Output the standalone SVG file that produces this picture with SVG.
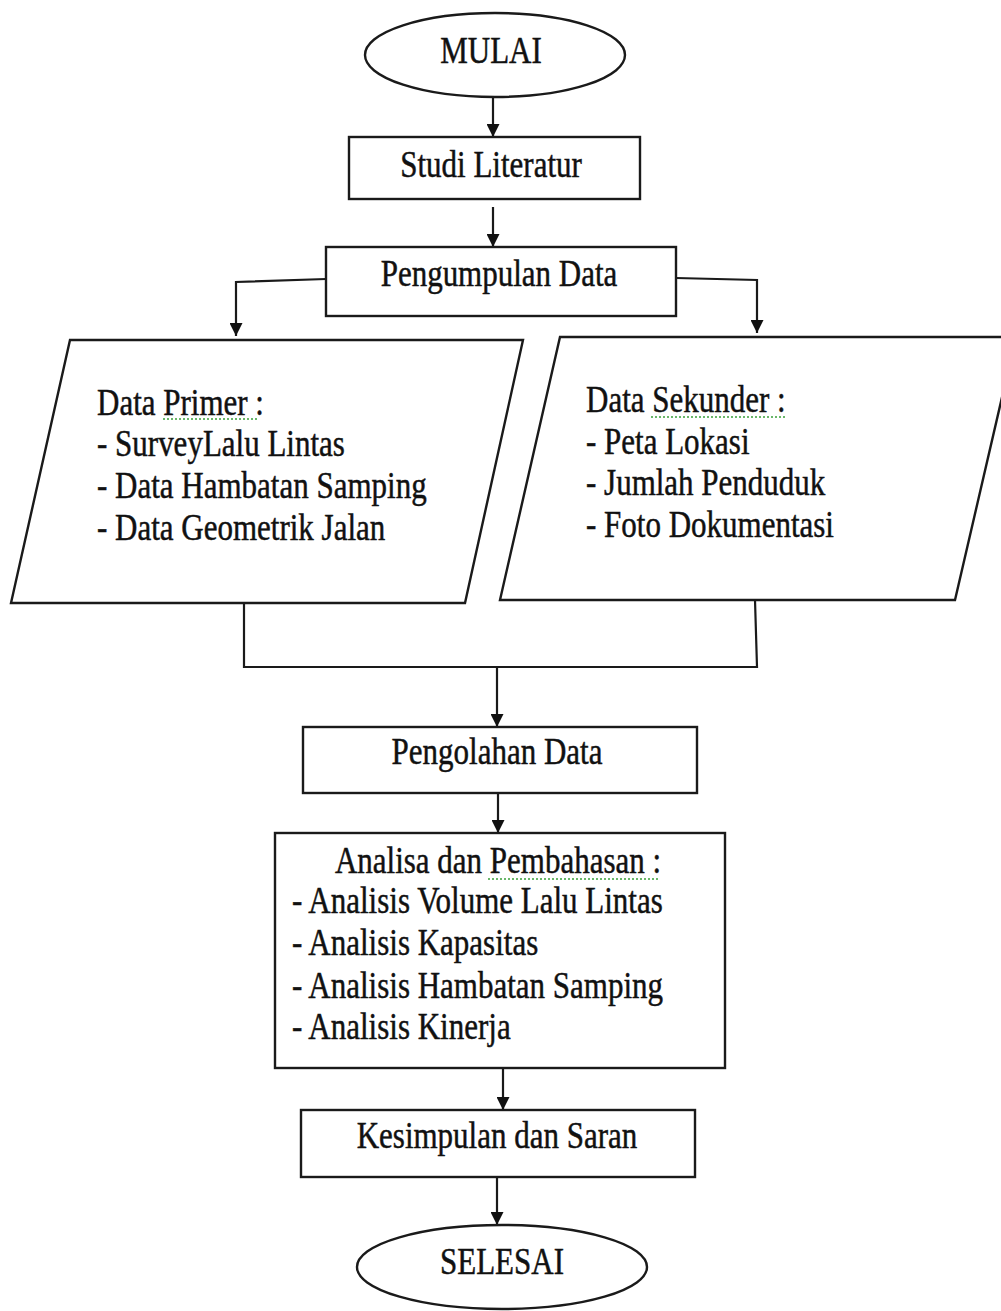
<svg xmlns="http://www.w3.org/2000/svg" width="1001" height="1311" viewBox="0 0 1001 1311">
<style>
  .shape { fill: #ffffff; stroke: #1a1a1a; stroke-width: 2.4; }
  .conn { fill: none; stroke: #1a1a1a; stroke-width: 2.2; }
  .t { font-family: "Liberation Serif", "Times New Roman", serif; font-size: 31px; fill: #111111; stroke: #111111; stroke-width: 0.4; }
  .c { text-anchor: middle; }
  .squig { fill: none; stroke: #3aa03a; stroke-width: 1.5; stroke-dasharray: 2 2; }
</style>
<defs>
  <marker id="arrow" viewBox="0 0 10 10" refX="10" refY="5" markerWidth="13" markerHeight="13" markerUnits="userSpaceOnUse" orient="auto">
    <path d="M0,0 L10,5 L0,10 Z" fill="#111111"/>
  </marker>
</defs>
<rect width="1001" height="1311" fill="#ffffff"/>

<g id="connectors">
  <line class="conn" x1="493" y1="98" x2="493" y2="137" marker-end="url(#arrow)"/>
  <line class="conn" x1="493" y1="207" x2="493" y2="247" marker-end="url(#arrow)"/>
  <polyline class="conn" points="326,279 236,282 236,336" marker-end="url(#arrow)"/>
  <polyline class="conn" points="676,278 757,280 757,333" marker-end="url(#arrow)"/>
  <polyline class="conn" points="244,603 244,667 757,667 755,600"/>
  <line class="conn" x1="497" y1="667" x2="497" y2="727" marker-end="url(#arrow)"/>
  <line class="conn" x1="498" y1="793" x2="498" y2="833" marker-end="url(#arrow)"/>
  <line class="conn" x1="503" y1="1068" x2="503" y2="1110" marker-end="url(#arrow)"/>
  <line class="conn" x1="497" y1="1177" x2="497" y2="1225" marker-end="url(#arrow)"/>
</g>

<g id="mulai">
  <ellipse class="shape" cx="495" cy="55" rx="130" ry="42"/>
  <text class="t c" transform="translate(491,63) scale(1,1.2)">MULAI</text>
</g>

<g id="studi-literatur">
  <rect class="shape" x="349" y="137" width="291" height="62"/>
  <text class="t c" transform="translate(491,177) scale(1,1.2)">Studi Literatur</text>
</g>

<g id="pengumpulan-data">
  <rect class="shape" x="326" y="247" width="350" height="69"/>
  <text class="t c" transform="translate(499,286) scale(1,1.2)">Pengumpulan Data</text>
</g>

<g id="data-primer">
  <polygon class="shape" points="70,340 523,340 465,603 11,603"/>
  <text class="t" transform="translate(97,415) scale(1,1.2)">Data Primer :</text>
  <text class="t" transform="translate(97,456) scale(1,1.2)">- SurveyLalu Lintas</text>
  <text class="t" transform="translate(97,498) scale(1,1.2)">- Data Hambatan Samping</text>
  <text class="t" transform="translate(97,540) scale(1,1.2)">- Data Geometrik Jalan</text>
  <path class="squig" d="M163,419 L259,419"/>
</g>

<g id="data-sekunder">
  <polygon class="shape" points="560,337 1016,337 955,600 500,600"/>
  <text class="t" transform="translate(586,412) scale(1,1.2)">Data Sekunder :</text>
  <text class="t" transform="translate(586,454) scale(1,1.2)">- Peta Lokasi</text>
  <text class="t" transform="translate(586,495) scale(1,1.2)">- Jumlah Penduduk</text>
  <text class="t" transform="translate(586,537) scale(1,1.2)">- Foto Dokumentasi</text>
  <path class="squig" d="M651,417 L785,417"/>
</g>

<g id="pengolahan-data">
  <rect class="shape" x="303" y="727" width="394" height="66"/>
  <text class="t c" transform="translate(497,764) scale(1,1.2)">Pengolahan Data</text>
</g>

<g id="analisa">
  <rect class="shape" x="275" y="833" width="450" height="235"/>
  <text class="t c" transform="translate(498,873) scale(1,1.2)">Analisa dan Pembahasan :</text>
  <text class="t" transform="translate(292,913) scale(1,1.2)">- Analisis Volume Lalu Lintas</text>
  <text class="t" transform="translate(292,955) scale(1,1.2)">- Analisis Kapasitas</text>
  <text class="t" transform="translate(292,998) scale(1,1.2)">- Analisis Hambatan Samping</text>
  <text class="t" transform="translate(292,1039) scale(1,1.2)">- Analisis Kinerja</text>
  <path class="squig" d="M488,879 L660,879"/>
</g>

<g id="kesimpulan">
  <rect class="shape" x="301" y="1110" width="394" height="67"/>
  <text class="t c" transform="translate(497,1148) scale(1,1.2)">Kesimpulan dan Saran</text>
</g>

<g id="selesai">
  <ellipse class="shape" cx="502" cy="1267" rx="145" ry="42"/>
  <text class="t c" transform="translate(502,1274) scale(1,1.2)">SELESAI</text>
</g>
</svg>
